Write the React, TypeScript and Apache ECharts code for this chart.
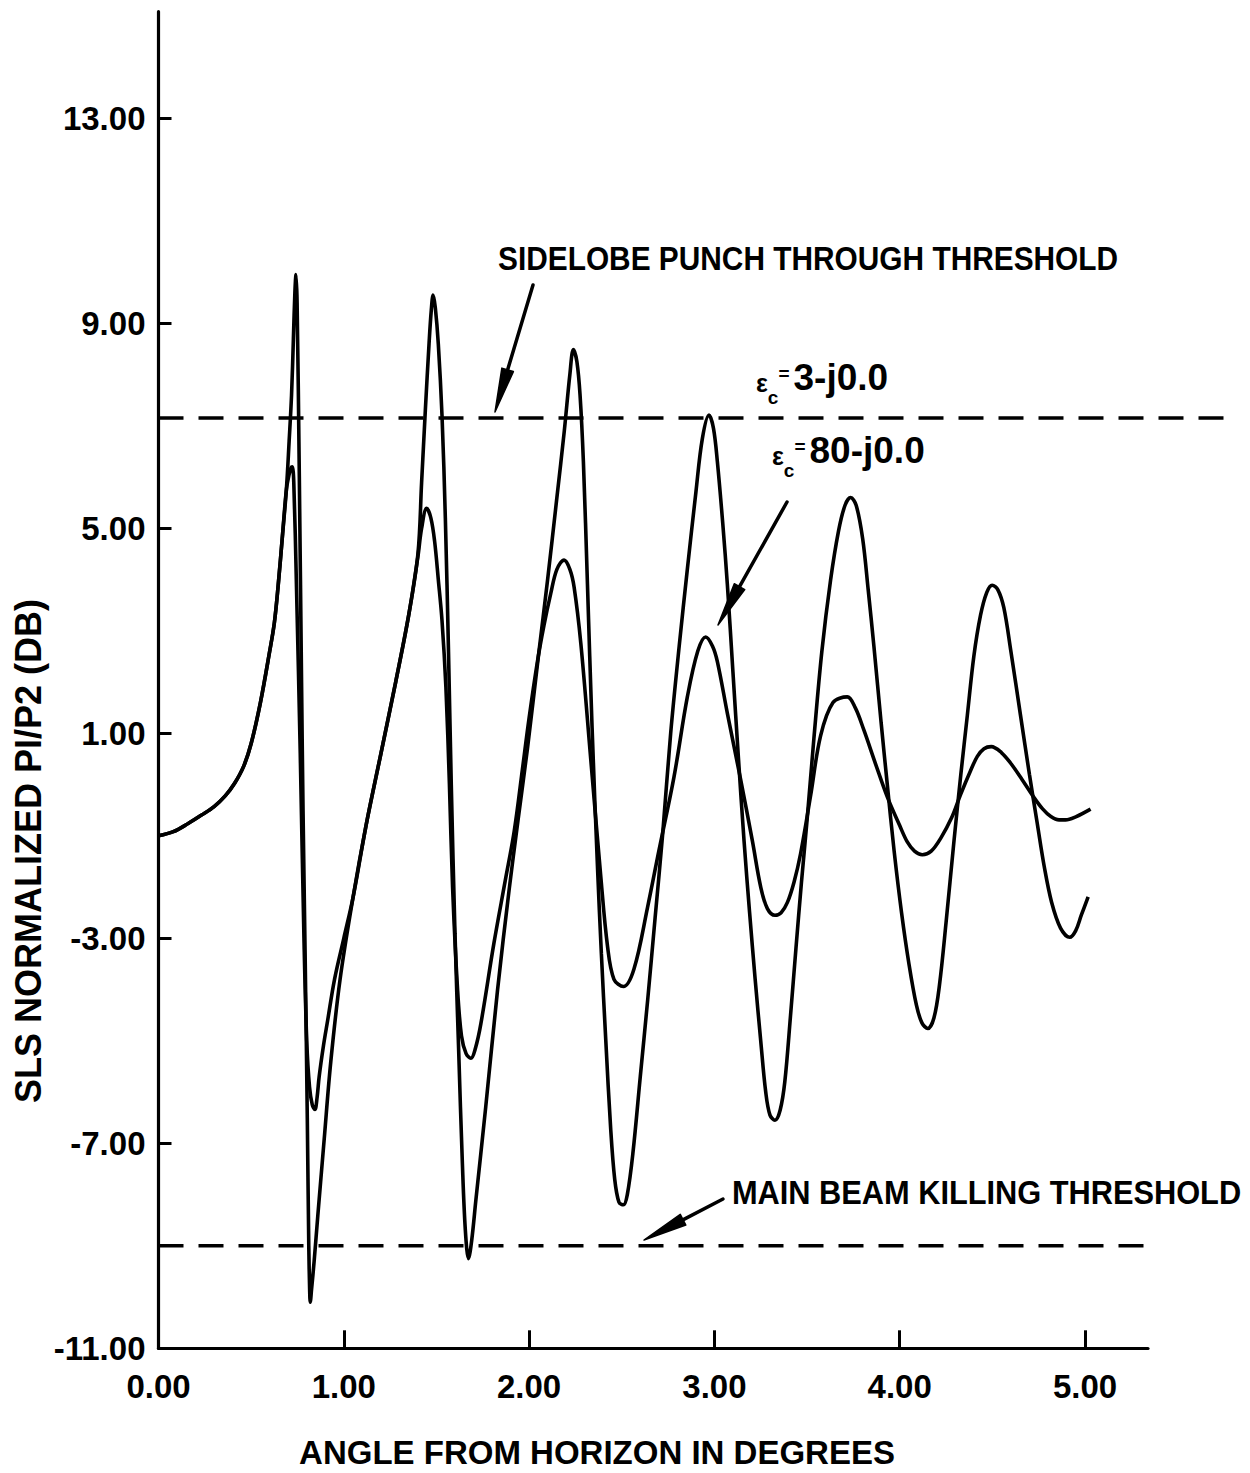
import React, { useEffect, useRef } from "react";
import * as echarts from "echarts";

// ---- data ----
const xTickValues = [0, 1, 2, 3, 4, 5];
const yTickValues = [-11, -7, -3, 1, 5, 9, 13];

// common rising branch (both curves coincide here)
const sharedRise: [number, number][] = [
  [0.0, -1.0], [0.08, -0.92], [0.16, -0.76], [0.23, -0.6], [0.3, -0.43], [0.36, -0.22],
  [0.41, 0.02], [0.46, 0.36], [0.5, 0.8], [0.55, 1.6], [0.6, 2.6], [0.625, 3.15],
  [0.645, 3.85], [0.67, 4.9], [0.69, 5.75],
];

// eps_c = 80 - j0.0 (large lobing)
const curveEps80: [number, number][] = [
  [0.705, 6.7], [0.718, 7.6], [0.728, 8.7], [0.736, 9.6], [0.742, 9.95], [0.748, 9.4],
  [0.76, 6.0], [0.772, 2.0], [0.78, -0.5], [0.792, -3.5], [0.803, -6.5], [0.811, -9.0],
  [0.816, -9.9], [0.819, -10.1], [0.826, -9.85], [0.84, -9.3], [0.86, -8.4], [0.894, -6.93],
  [0.93, -5.4], [0.98, -3.8], [1.05, -2.2], [1.12, -0.8], [1.2, 0.6], [1.28, 2.0],
  [1.35, 3.3], [1.4, 4.5], [1.42, 5.9], [1.44, 7.3], [1.46, 8.6], [1.472, 9.25],
  [1.482, 9.55], [1.494, 9.3], [1.51, 8.6], [1.53, 7.2], [1.548, 5.2], [1.565, 2.6],
  [1.58, 0.0], [1.6, -2.9], [1.62, -5.2], [1.64, -7.4], [1.656, -8.7], [1.673, -9.25],
  [1.69, -8.9], [1.713, -8.1], [1.766, -6.29], [1.83, -4.0], [1.892, -2.06], [1.94, -0.7],
  [1.991, 0.7], [2.05, 2.5], [2.1, 4.0], [2.15, 5.6], [2.19, 6.9], [2.22, 8.0],
  [2.239, 8.49], [2.258, 8.25], [2.275, 7.6], [2.293, 6.3], [2.315, 3.9], [2.34, 1.1],
  [2.369, -1.6], [2.39, -3.3], [2.414, -5.0], [2.44, -6.7], [2.462, -7.7], [2.485, -8.15],
  [2.509, -8.2], [2.53, -8.0], [2.56, -7.2], [2.6, -5.7], [2.64, -4.2], [2.68, -2.6],
  [2.72, -1.0], [2.764, 1.0], [2.81, 2.7], [2.854, 4.2], [2.9, 5.7], [2.935, 6.75],
  [2.971, 7.21], [2.995, 6.95], [3.016, 6.3], [3.045, 5.1], [3.07, 3.9], [3.1, 2.2],
  [3.13, 0.5], [3.16, -1.1], [3.19, -2.5], [3.22, -3.8], [3.25, -5.0], [3.277, -6.0],
  [3.3, -6.45], [3.327, -6.55], [3.355, -6.35], [3.38, -5.8], [3.411, -4.5], [3.44, -3.2],
  [3.47, -1.9], [3.5, -0.7], [3.537, 0.9], [3.58, 2.6], [3.627, 3.99], [3.67, 4.95],
  [3.705, 5.45], [3.735, 5.6], [3.765, 5.45], [3.8, 4.8], [3.83, 3.8], [3.861, 2.69],
  [3.9, 1.2], [3.933, 0.0], [3.97, -1.3], [4.01, -2.5], [4.05, -3.5], [4.09, -4.3],
  [4.12, -4.65], [4.152, -4.76], [4.185, -4.55], [4.215, -3.9], [4.25, -2.7], [4.293, -1.1],
  [4.33, 0.2], [4.365, 1.35], [4.4, 2.5], [4.436, 3.3], [4.47, 3.75], [4.499, 3.89],
  [4.53, 3.8], [4.562, 3.45], [4.6, 2.6], [4.652, 1.35], [4.7, 0.2], [4.742, -0.75],
  [4.78, -1.6], [4.82, -2.3], [4.868, -2.8], [4.918, -2.98], [4.95, -2.85], [4.98, -2.55],
  [5.017, -2.19],
];

// eps_c = 3 - j0.0 (smaller lobing)
const curveEps3: [number, number][] = [
  [0.705, 6.05], [0.715, 6.18], [0.722, 6.2], [0.73, 5.9], [0.745, 3.8], [0.765, 0.6],
  [0.785, -3.0], [0.8, -5.0], [0.815, -5.9], [0.83, -6.25], [0.844, -6.34], [0.856, -6.1],
  [0.867, -5.7], [0.89, -5.1], [0.913, -4.6], [0.95, -3.8], [1.0, -3.0], [1.05, -2.2],
  [1.12, -0.8], [1.2, 0.6], [1.28, 2.0], [1.35, 3.3], [1.4, 4.45], [1.42, 5.0],
  [1.447, 5.39], [1.47, 5.2], [1.49, 4.75], [1.51, 4.0], [1.53, 3.2], [1.551, 1.9],
  [1.57, 0.0], [1.587, -2.0], [1.614, -4.0], [1.635, -4.9], [1.66, -5.25], [1.686, -5.34],
  [1.71, -5.15], [1.74, -4.66], [1.81, -3.1], [1.87, -1.9], [1.92, -0.9], [1.964, 0.3],
  [2.0, 1.3], [2.045, 2.4], [2.08, 3.1], [2.117, 3.73], [2.15, 4.2], [2.189, 4.38],
  [2.22, 4.2], [2.243, 3.85], [2.279, 2.76], [2.333, 0.48], [2.387, -1.8], [2.423, -3.15],
  [2.458, -3.8], [2.509, -3.94], [2.566, -3.6], [2.639, -2.4], [2.7, -1.3], [2.782, 0.15],
  [2.854, 1.71], [2.91, 2.6], [2.953, 2.88], [2.99, 2.7], [3.016, 2.4], [3.07, 1.39],
  [3.142, 0.09], [3.205, -1.1], [3.25, -2.0], [3.286, -2.42], [3.327, -2.55], [3.36, -2.5],
  [3.394, -2.3], [3.43, -1.9], [3.465, -1.35], [3.52, -0.2], [3.573, 0.95], [3.64, 1.6],
  [3.717, 1.71], [3.76, 1.5], [3.807, 1.06], [3.87, 0.4], [3.933, -0.24], [4.0, -0.8],
  [4.041, -1.12], [4.08, -1.3], [4.122, -1.37], [4.17, -1.3], [4.221, -1.05], [4.28, -0.65],
  [4.328, -0.2], [4.38, 0.25], [4.419, 0.55], [4.455, 0.7], [4.494, 0.74], [4.55, 0.62],
  [4.598, 0.42], [4.66, 0.1], [4.724, -0.25], [4.77, -0.47], [4.814, -0.62], [4.86, -0.69],
  [4.895, -0.69], [4.95, -0.63], [5.03, -0.48],
];

// thresholds (dB) and the angle where each dashed line stops
const thresholdNames = ["SIDELOBE PUNCH THROUGH THRESHOLD", "MAIN BEAM KILLING THRESHOLD"];
const thresholdLevels = [7.15, -9.0];
const thresholdEnds = [5.82, 5.35];

const FONT = "'Liberation Sans', Arial, sans-serif";

function arrow(x1: number, y1: number, x2: number, y2: number, head = 44, half = 6) {
  const dx = x2 - x1;
  const dy = y2 - y1;
  const len = Math.sqrt(dx * dx + dy * dy);
  const ux = dx / len;
  const uy = dy / len;
  const bx = x2 - head * ux;
  const by = y2 - head * uy;
  const nx = -uy;
  const ny = ux;
  return [
    {
      type: "line",
      shape: { x1, y1, x2: bx + ux * 4, y2: by + uy * 4 },
      style: { stroke: "#000", lineWidth: 3.5, lineCap: "round" },
    },
    {
      type: "polygon",
      shape: {
        points: [
          [x2, y2],
          [bx + half * nx, by + half * ny],
          [bx - half * nx, by - half * ny],
        ],
      },
      style: { fill: "#000", stroke: "#000", lineWidth: 1.5, lineJoin: "round" },
    },
  ];
}

function txt(text: string, x: number, y: number, size: number, align = "left", extra: any = {}) {
  return {
    type: "text",
    x,
    y,
    ...extra,
    style: {
      text,
      fill: "#000",
      fontSize: size,
      fontWeight: "bold",
      fontFamily: FONT,
      align,
      verticalAlign: "middle",
    },
  };
}

// epsilon label: ε with subscript c, raised "=", then the value
function epsLabel(value: string, x: number, y: number) {
  const base = { fontWeight: "bold", fontFamily: FONT, fill: "#000", verticalAlign: "middle" };
  return {
    type: "text",
    x,
    y,
    style: {
      text: `{e|ε}{s|c}{q|=}{v|${value}}`,
      align: "left",
      verticalAlign: "middle",
      rich: {
        e: { ...base, fontSize: 25, lineHeight: 24, padding: [12, 0, 0, 0] },
        s: { ...base, fontSize: 19, lineHeight: 20, padding: [40, 0, 0, 0] },
        q: { ...base, fontSize: 19, lineHeight: 18, padding: [0, 0, 8, 0] },
        v: { ...base, fontSize: 37, lineHeight: 40, padding: [0, 0, 0, 4] },
      },
    },
  };
}

export default function App() {
  const ref = useRef<HTMLDivElement>(null);

  useEffect(() => {
    document.body.style.margin = "0";
    if (!ref.current) return;
    const chart = echarts.init(ref.current, undefined, { renderer: "svg" });

    const axisFont = { color: "#000", fontSize: 33, fontWeight: "bold", fontFamily: FONT };
    const grid = { top: 11.7, bottom: 124.7, left: 158.5 };
    const curveStyle = {
      type: "line",
      xAxisIndex: 0,
      yAxisIndex: 0,
      showSymbol: false,
      symbol: "none",
      smooth: 0.35,
      lineStyle: { color: "#000", width: 3.6 },
      z: 3,
    };

    const option: any = {
      animation: false,
      backgroundColor: "#fff",
      grid: [
        { ...grid, right: 102 },
        { ...grid, right: 13 },
      ],
      xAxis: [
        {
          type: "value",
          gridIndex: 0,
          min: 0,
          max: 5.34,
          axisLine: { show: true, onZero: false, lineStyle: { color: "#000", width: 3.2 } },
          axisTick: {
            show: true,
            inside: true,
            length: 18,
            customValues: xTickValues,
            lineStyle: { color: "#000", width: 3 },
          },
          axisLabel: {
            show: true,
            customValues: xTickValues,
            formatter: (v: number) => v.toFixed(2),
            margin: 22,
            ...axisFont,
          },
          splitLine: { show: false },
        },
        { type: "value", gridIndex: 1, min: 0, max: 5.82, show: false },
      ],
      yAxis: [
        {
          type: "value",
          gridIndex: 0,
          min: -11,
          max: 15.08,
          axisLine: { show: true, onZero: false, lineStyle: { color: "#000", width: 3.2 } },
          axisTick: {
            show: true,
            inside: true,
            length: 13,
            customValues: yTickValues,
            lineStyle: { color: "#000", width: 3 },
          },
          axisLabel: {
            show: true,
            customValues: yTickValues,
            formatter: (v: number) => v.toFixed(2),
            margin: 13,
            ...axisFont,
          },
          splitLine: { show: false },
        },
        { type: "value", gridIndex: 1, min: -11, max: 15.08, show: false },
      ],
      series: [
        { ...curveStyle, name: "εc=80-j0.0", data: [...sharedRise, ...curveEps80] },
        { ...curveStyle, name: "εc=3-j0.0", data: [...sharedRise, ...curveEps3] },
        ...thresholdLevels.map((lvl, i) => ({
          name: thresholdNames[i],
          type: "line",
          xAxisIndex: 1,
          yAxisIndex: 1,
          data: [
            [0, lvl],
            [thresholdEnds[i], lvl],
          ],
          showSymbol: false,
          symbol: "none",
          lineStyle: { color: "#000", width: 3.5, type: [25, 15] },
          z: 2,
        })),
      ],
      graphic: [
        txt("SLS NORMALIZED PI/P2 (DB)", 28, 851, 36, "center", { rotation: Math.PI / 2 }),
        txt("ANGLE FROM HORIZON IN DEGREES", 597, 1452, 33, "center"),
        txt(thresholdNames[0], 498, 258, 34, "left", { scaleX: 0.878 }),
        txt(thresholdNames[1], 732, 1192, 34, "left", { scaleX: 0.905 }),
        epsLabel("3-j0.0", 756, 377),
        epsLabel("80-j0.0", 772, 450),
        ...arrow(533, 285, 495, 412),
        ...arrow(787, 502, 718, 625),
        ...arrow(723, 1199, 644, 1240),
      ],
    };

    chart.setOption(option);
    return () => chart.dispose();
  }, []);

  return <div ref={ref} style={{ width: 1250, height: 1473, background: "#fff" }} />;
}
